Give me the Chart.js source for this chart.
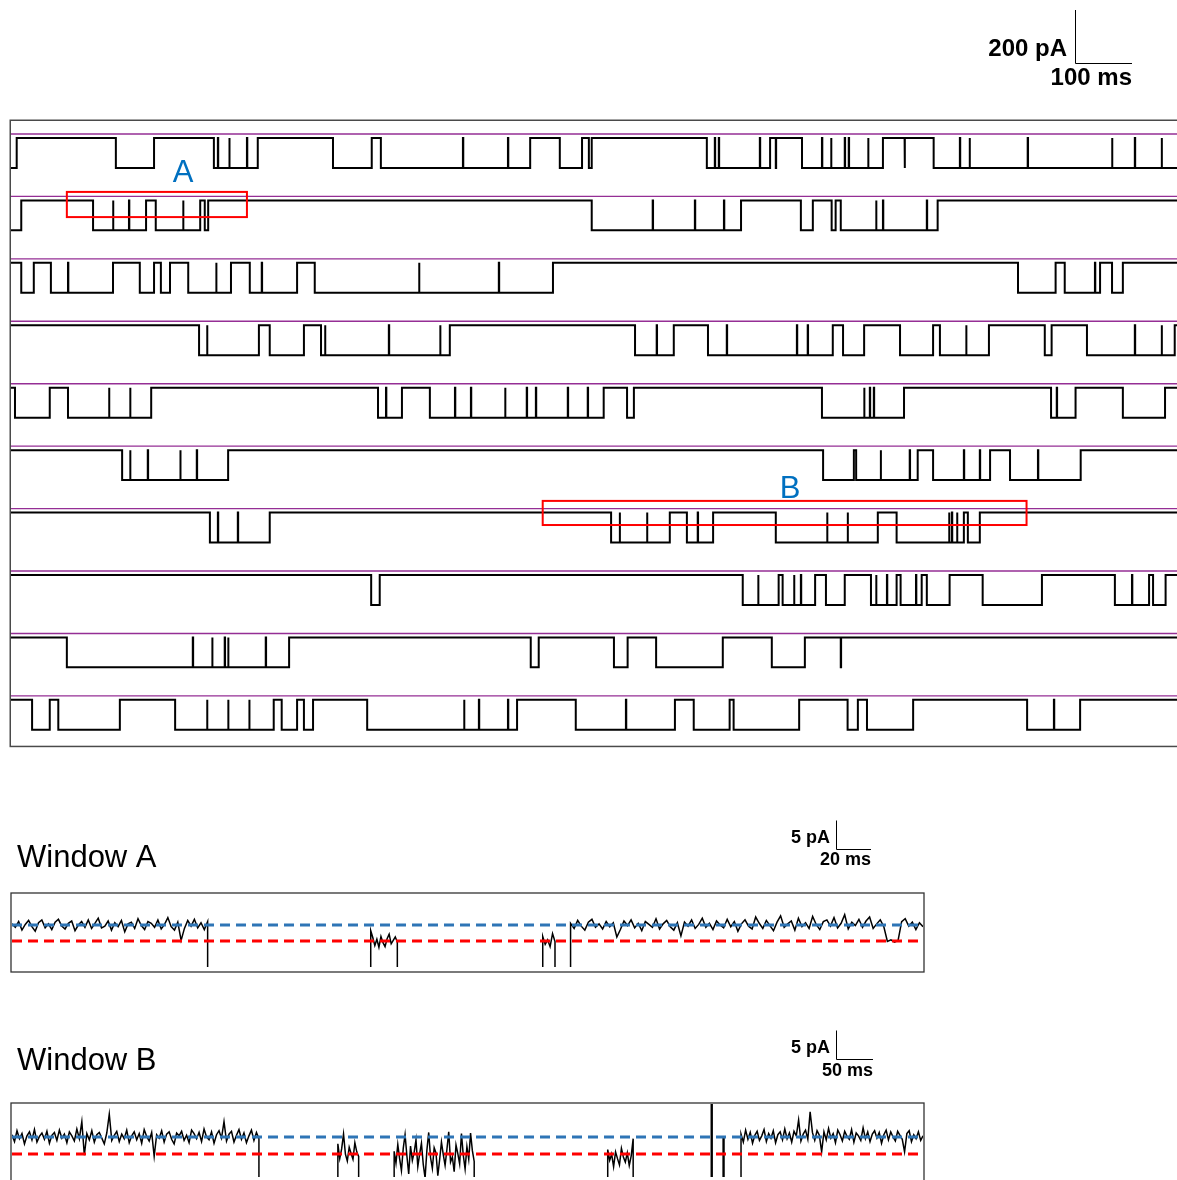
<!DOCTYPE html>
<html><head><meta charset="utf-8">
<script src="https://cdn.jsdelivr.net/npm/chart.js@4.4.1/dist/chart.umd.min.js"></script>
<style>
html,body{margin:0;padding:0;background:#fff;width:1177px;height:1180px;overflow:hidden;position:relative;}
canvas{position:absolute;left:0;}
</style></head><body>
<canvas id="main" width="1177" height="760" style="top:0px"></canvas>
<canvas id="winA" width="1177" height="180" style="top:800px"></canvas>
<canvas id="winB" width="1177" height="180" style="top:1000px"></canvas>
<script>
// ===================== DATA =====================
// Main panel: 10 sweeps, each ~2046 ms long. 1 = starts open, 0 = starts closed
const sweepNames = ['1','2','3','4','5','6','7','8','9','10'];
const sweepStartsOpen = [1,1,0,0,0,0,0,0,0,0];
// transition times (ms): level toggles closed <-> open
const sweep1Transitions = [10,184,251,356,433,565,633,649,911,963,1002,1014,1019,1221,1332,1388,1530,1619];
const sweep2Transitions = [18,144,237,254,332,340,346,1019,1281,1386,1407,1440,1447,1456,1626];
const sweep3Transitions = [18,40,70,179,226,251,263,279,311,386,419,502,533,951,1767,1833,1849,1911,1932,1951];
const sweep4Transitions = [330,435,454,514,544,770,1095,1163,1223,1442,1460,1497,1560,1618,1630,1716,1814,1826,1888,2042];
const sweep5Transitions = [7,68,100,246,644,686,735,1040,1081,1093,1423,1567,1825,1868,1951,2025];
const sweep6Transitions = [195,381,1425,1479,1483,1591,1618,1718,1753,1877];
const sweep7Transitions = [349,454,1053,1156,1186,1232,1342,1521,1554,1672,1679,1700];
const sweep8Transitions = [632,647,1284,1347,1354,1411,1430,1463,1509,1554,1561,1598,1607,1647,1705,1809,1937,1997,2004,2026];
const sweep9Transitions = [98,488,912,926,1058,1082,1132,1249,1335,1393];
const sweep10Transitions = [37,68,83,191,288,461,475,502,514,530,625,888,991,1165,1198,1261,1268,1383,1468,1486,1502,1583,1783,1876];
// brief (sub-ms) sojourns in the opposite level (ms)
const sweep1Brief = [363,383,414,793,872,1235,1242,1314,1342,1423,1439,1463,1470,1504,1568,1665,1682,1784,1932,1972,2019];
const sweep2Brief = [179,207,302,1126,1200,1251,1518,1530,1607];
const sweep3Brief = [100,360,440,716,856,1902];
const sweep4Brief = [344,551,663,753,1133,1256,1379,1398,1676,1972,2019];
const sweep5Brief = [172,209,658,779,807,867,905,921,977,1012,1497,1507,1514,1835];
const sweep6Brief = [209,240,297,326,1526,1577,1672,1700,1802];
const sweep7Brief = [363,398,1068,1116,1205,1432,1468,1646,1651,1660];
const sweep8Brief = [1311,1374,1386,1518,1537,1588,1967];
const sweep9Brief = [319,353,375,381,447,1456];
const sweep10Brief = [344,381,418,795,821,872,1079,1830];
const closedLevel_pA = 0;
const openLevel_pA = -113;
const baselineMarker_pA = 15;
const sweepDuration_ms = 2046;

// Zoom windows marked on the main panel
const windowLabels = ['A','B'];
const windowSweepIndex = [1,6];
const windowStart_ms = [98,933];
const windowEnd_ms = [414,1782];
const windowTop_pA = [32,44];
const windowBottom_pA = [-63,-47];
const windowLabelAt_ms = [302,1367];
const windowLabelAt_pA = [100,89];

// Window A (ms, pA relative to closed level)
const winA_subLevel_pA = -2.8;
const winA_duration_ms = 520.6;
const winA_segStart = [0,205.0,303.3,319.2];
const winA_segEnd = [111.8,220.2,310.3,520.6];
const winA_closed1 = [0.2,-0.4,0.6,-0.9,0.1,0.8,-0.3,-1.1,0.4,0.9,-0.5,0.2,-0.8,0.5,1.0,-0.2,-0.7,0.3,0.7,-1.0,0.0,0.6,-0.4,0.9,-0.6,0.3,1.2,-0.5,-0.2,0.7,-0.9,0.4,-0.3,0.8,-1.2,0.2,0.5,-0.6,1.1,-0.1,-0.8,0.6,0.3,-0.4,0.9,-0.7,0.1,1.3,-0.3,-0.9,0.5,-2.7,-0.6,0.8,-0.2,1.0,-0.5,0.4,-0.8,0.6];
const winA_sub1 = [-1.0,-2.2,-3.6,-2.5,-3.9,-2.0,-3.1,-3.8,-2.4,-1.6,-3.3,-2.7,-2.1,-3.0];
const winA_sub2 = [-2.0,-3.4,-2.6,-3.8,-1.5,-2.9];
const winA_closed2 = [0.3,-0.6,0.8,-0.2,-0.9,0.5,1.0,-0.4,0.2,-0.7,0.6,-0.3,0.4,-2.1,-0.8,0.7,-0.1,0.9,-0.5,0.3,-1.0,0.6,0.1,-0.4,1.1,-0.7,0.2,0.8,-0.3,-0.9,0.4,-1.9,0.5,-0.2,0.9,-0.6,0.1,1.2,-0.4,0.3,
-0.8,0.7,0.0,-0.5,1.0,-0.3,0.6,-1.1,0.2,0.9,-0.2,-0.7,1.4,0.3,-0.6,0.8,-0.1,-1.0,0.5,1.6,
-0.4,0.2,0.7,-0.9,1.2,-0.3,0.4,-0.6,1.5,0.1,-0.8,0.6,0.9,-0.2,1.3,-0.5,0.3,1.8,-0.7,0.5,
-0.1,1.0,-0.4,0.7,1.4,-0.6,0.2,0.9,-0.3,-2.9,-2.6,-3.0,-2.7,0.6,1.1,-0.2,0.5,-0.8,0.4,-0.3];
const winA_briefTimes = [];
const winA_briefLevels = [];

// Window B
const winB_subLevel_pA = -3.0;
const winB_duration_ms = 1231.5;
const winB_segStart = [0,440.5,516.6,805.3,985.5];
const winB_segEnd = [333.8,468.6,624.8,839.7,1231.5];
const winB_closed1 = [0.4,-0.8,1.1,-0.3,0.6,-1.2,0.2,0.9,-0.5,1.3,-0.9,0.1,0.7,-0.4,1.0,-1.1,0.3,0.8,-0.6,1.2,
-0.2,0.5,-1.0,0.9,0.2,-0.7,1.4,-0.3,2.7,-3.2,0.6,-0.5,1.1,-0.9,0.4,0.8,-0.2,-1.2,0.7,4.0,
-0.6,0.3,1.0,-0.8,0.5,-0.3,1.2,-1.0,0.2,0.9,-0.5,0.6,-1.1,1.3,0.1,-0.7,0.8,-3.4,0.4,-0.2,
1.1,-0.9,0.5,0.9,-0.4,-1.2,0.7,0.2,1.0,-0.6,0.3,-1.0,1.2,0.6,-0.3,0.8,-0.8,1.4,0.0,-0.5,
0.9,-1.1,0.4,1.1,-0.2,2.7,-0.7,0.5,1.0,-0.9,0.3,1.3,-0.4,0.7,-1.0,0.2,1.2,-0.6,0.8,-0.3];
const winB_sub1 = [-1.2,-3.8,-2.1,0.5,-3.0,-4.2,-1.8,-2.9,-3.9,-1.0,-2.6,-3.4];
const winB_sub2 = [-2.5,-4.6,-1.3,-3.8,-5.9,-2.0,0.4,-3.3,-6.5,-1.6,-4.1,-2.7,-0.5,-5.2,-3.0,-1.1,-4.8,-7.2,-2.3,0.8,
-3.6,-5.5,-1.9,-2.8,-6.8,-4.0,-0.9,-3.1,-5.0,-2.2,0.9,-4.4,-3.5,-6.1,-1.4,-2.9,-4.7,0.6,-3.2,-5.6,
-1.7,-3.9,0.7,-2.4,-4.3];
const winB_sub3 = [-2.2,-4.1,-3.0,-5.2,-2.6,-3.8,-4.9,-2.0,-3.5,-4.4,-2.8,-5.0,-3.3,-0.3];
const winB_closed2 = [0.5,-0.9,1.2,-0.4,0.8,-1.1,0.3,1.0,-0.6,0.2,1.3,-0.8,0.6,-0.2,1.1,-1.0,0.4,0.9,-0.5,1.4,
-0.3,0.7,-0.9,1.0,0.2,3.0,-0.7,0.5,1.2,-0.4,4.4,0.8,-0.6,1.1,0.3,-2.6,0.9,-0.5,1.5,-0.2,
0.6,-1.0,1.2,0.4,-0.7,1.0,0.1,-0.4,1.3,-0.9,0.7,0.2,-0.6,1.6,-0.3,0.9,-0.8,0.5,1.1,-0.2,
0.8,-1.1,0.4,1.2,-0.5,0.9,0.0,-0.7,1.0,0.3,-0.4,-2.6,0.6,1.1,-0.8,0.4,-0.3,0.9,-0.6,0.2];
const winB_briefTimes = [945.3,961.3];
const winB_briefLevels = [6.0,0.0];

// scale bars
const scaleBarAmp_pA = [200,5,5];
const scaleBarTime_ms = [100,20,50];

// ===================== BUILD =====================
const sweepTransitions = [sweep1Transitions,sweep2Transitions,sweep3Transitions,sweep4Transitions,sweep5Transitions,sweep6Transitions,sweep7Transitions,sweep8Transitions,sweep9Transitions,sweep10Transitions];
const sweepBrief = [sweep1Brief,sweep2Brief,sweep3Brief,sweep4Brief,sweep5Brief,sweep6Brief,sweep7Brief,sweep8Brief,sweep9Brief,sweep10Brief];
const ROW_STEP = 235.6;       // vertical stacking offset between sweeps (pA)
const BRIEF_W = 0.6;           // ms
const rowOffset = k => -ROW_STEP * k;

function buildSweep(k){
  const off = rowOffset(k);
  let open = sweepStartsOpen[k] === 1;
  const lv = o => off + (o ? openLevel_pA : closedLevel_pA);
  const ev = [];
  sweepTransitions[k].forEach(t => ev.push({t, brief:false}));
  sweepBrief[k].forEach(t => ev.push({t, brief:true}));
  ev.sort((a,b) => a.t - b.t);
  const pts = [{x:0, y:lv(open)}];
  for (const e of ev){
    if (e.brief){
      pts.push({x:e.t,y:lv(open)},{x:e.t,y:lv(!open)},{x:e.t+BRIEF_W,y:lv(!open)},{x:e.t+BRIEF_W,y:lv(open)});
    } else {
      pts.push({x:e.t,y:lv(open)}); open = !open; pts.push({x:e.t,y:lv(open)});
    }
  }
  pts.push({x:sweepDuration_ms, y:lv(open)});
  return pts;
}

const mainDatasets = [];
sweepNames.forEach((n,k) => {
  mainDatasets.push({label:'Sweep '+n, data: buildSweep(k), borderColor:'#000', borderWidth:2, pointRadius:0, tension:0, order:1});
});
sweepNames.forEach((n,k) => {
  const y = rowOffset(k) + baselineMarker_pA;
  mainDatasets.push({label:'Baseline '+n, data:[{x:0,y},{x:sweepDuration_ms,y}], borderColor:'#952e95', borderWidth:1.4, pointRadius:0, order:2});
});

const mainDecor = {
  id:'mainDecor',
  afterDatasetsDraw(chart){
    const {ctx, chartArea:a, scales:{x, y}} = chart;
    ctx.save();
    ctx.strokeStyle = '#4a4a4a'; ctx.lineWidth = 1.5;
    ctx.strokeRect(10.25, 120.25, 1300, a.bottom - a.top + 1.2);
    windowLabels.forEach((lab,i) => {
      const off = rowOffset(windowSweepIndex[i]);
      const x0 = x.getPixelForValue(windowStart_ms[i]), x1 = x.getPixelForValue(windowEnd_ms[i]);
      const y0 = y.getPixelForValue(off + windowTop_pA[i]), y1 = y.getPixelForValue(off + windowBottom_pA[i]);
      ctx.strokeStyle = '#ff0000'; ctx.lineWidth = 2;
      ctx.strokeRect(x0, y0, x1 - x0, y1 - y0);
      ctx.fillStyle = '#0070c0';
      ctx.font = '31px "Liberation Sans", Arial, sans-serif';
      ctx.textAlign = 'center'; ctx.textBaseline = 'middle';
      ctx.fillText(lab, x.getPixelForValue(windowLabelAt_ms[i]), y.getPixelForValue(off + windowLabelAt_pA[i]));
    });
    const cx = 1075, cy = 63;
    const h = y.getPixelForValue(0) - y.getPixelForValue(scaleBarAmp_pA[0]);
    const w = x.getPixelForValue(scaleBarTime_ms[0]) - x.getPixelForValue(0);
    ctx.strokeStyle = '#000'; ctx.lineWidth = 1;
    ctx.beginPath(); ctx.moveTo(cx + 0.5, cy - h); ctx.lineTo(cx + 0.5, cy + 0.5); ctx.lineTo(cx + w, cy + 0.5); ctx.stroke();
    ctx.fillStyle = '#000';
    ctx.font = 'bold 24px "Liberation Sans", Arial, sans-serif';
    ctx.textAlign = 'right'; ctx.textBaseline = 'middle';
    ctx.fillText(scaleBarAmp_pA[0] + ' pA', 1067, 49);
    ctx.fillText(scaleBarTime_ms[0] + ' ms', 1132, 78);
    ctx.restore();
  }
};

new Chart(document.getElementById('main'), {
  type:'line',
  data:{datasets: mainDatasets},
  options:{
    responsive:false, animation:false, events:[],
    layout:{padding:{left:11, top:121, right:0, bottom:14}},
    plugins:{legend:{display:false}, tooltip:{enabled:false}},
    scales:{
      x:{type:'linear', min:0, max:sweepDuration_ms, display:false},
      y:{type:'linear', min:-2294.5, max:64, display:false}
    }
  },
  plugins:[mainDecor]
});

function buildWindow(starts, ends, samples, briefT, briefLv){
  const pts = [];
  for (let i = 0; i < starts.length; i++){
    const s = starts[i], e = ends[i], v = samples[i], n = v.length;
    if (i > 0) pts.push({x:s, y:openLevel_pA});
    for (let j = 0; j < n; j++) pts.push({x: s + (e - s) * j / (n - 1), y: v[j]});
    if (i < starts.length - 1){
      pts.push({x:e, y:openLevel_pA});
      briefT.forEach((t,k) => {
        if (t > e && t < starts[i+1]) pts.push({x:t,y:openLevel_pA},{x:t,y:briefLv[k]},{x:t+1.2,y:briefLv[k]},{x:t+1.2,y:openLevel_pA});
      });
    }
  }
  return pts;
}

function makeWindow(id, title, dur, sub, trace, yMin, yMax, pad, frameTop, barIdx, barCorner, ampLabelY, timeLabelY, timeLabelRight, titleY){
  const deco = {
    id:'deco'+title.replace(' ',''),
    afterDraw(chart){
      const {ctx, scales:{x, y}} = chart;
      ctx.save();
      ctx.strokeStyle = '#333'; ctx.lineWidth = 1.3;
      ctx.strokeRect(11, frameTop, 913, 79);
      ctx.fillStyle = '#000';
      ctx.font = '31px "Liberation Sans", Arial, sans-serif';
      ctx.textAlign = 'left'; ctx.textBaseline = 'middle';
      ctx.fillText(title, 17, titleY);
      const h = y.getPixelForValue(0) - y.getPixelForValue(scaleBarAmp_pA[barIdx]);
      const w = x.getPixelForValue(scaleBarTime_ms[barIdx]) - x.getPixelForValue(0);
      const [cx, cy] = barCorner;
      ctx.lineWidth = 1; ctx.strokeStyle = '#000';
      ctx.beginPath(); ctx.moveTo(cx + 0.5, cy - h); ctx.lineTo(cx + 0.5, cy + 0.5); ctx.lineTo(cx + w, cy + 0.5); ctx.stroke();
      ctx.font = 'bold 18px "Liberation Sans", Arial, sans-serif';
      ctx.textAlign = 'right';
      ctx.fillText(scaleBarAmp_pA[barIdx] + ' pA', cx - 6, ampLabelY);
      ctx.fillText(scaleBarTime_ms[barIdx] + ' ms', timeLabelRight, timeLabelY);
      ctx.restore();
    }
  };
  new Chart(document.getElementById(id), {
    type:'line',
    data:{datasets:[
      {label:'Closed level', data:[{x:0,y:0},{x:dur,y:0}], borderColor:'#2e75b6', borderWidth:3, borderDash:[10,6], pointRadius:0, order:0},
      {label:'Sub-level', data:[{x:0,y:sub},{x:dur,y:sub}], borderColor:'#ff0000', borderWidth:3, borderDash:[10,6], pointRadius:0, order:0},
      {label:'Current', data:trace, borderColor:'#000', borderWidth:1.5, pointRadius:0, tension:0, order:1}
    ]},
    options:{
      responsive:false, animation:false, events:[],
      layout:{padding:pad},
      plugins:{legend:{display:false}, tooltip:{enabled:false}},
      scales:{
        x:{type:'linear', min:0, max:dur, display:false},
        y:{type:'linear', min:yMin, max:yMax, display:false}
      }
    },
    plugins:[deco]
  });
}

const traceA = buildWindow(winA_segStart, winA_segEnd, [winA_closed1, winA_sub1, winA_sub2, winA_closed2], winA_briefTimes, winA_briefLevels);
const traceB = buildWindow(winB_segStart, winB_segEnd, [winB_closed1, winB_sub1, winB_sub2, winB_sub3, winB_closed2], winB_briefTimes, winB_briefLevels);

makeWindow('winA', 'Window A', winA_duration_ms, winA_subLevel_pA, traceA, -7.37, 5.44,
  {left:12, top:94, right:254, bottom:13}, 93, 1, [836, 49], 38, 60, 871, 58);
makeWindow('winB', 'Window B', winB_duration_ms, winB_subLevel_pA, traceB, -7.02, 5.79,
  {left:12, top:104, right:254, bottom:3}, 103, 2, [836, 59], 48, 71, 873, 61);
</script>
</body></html>
